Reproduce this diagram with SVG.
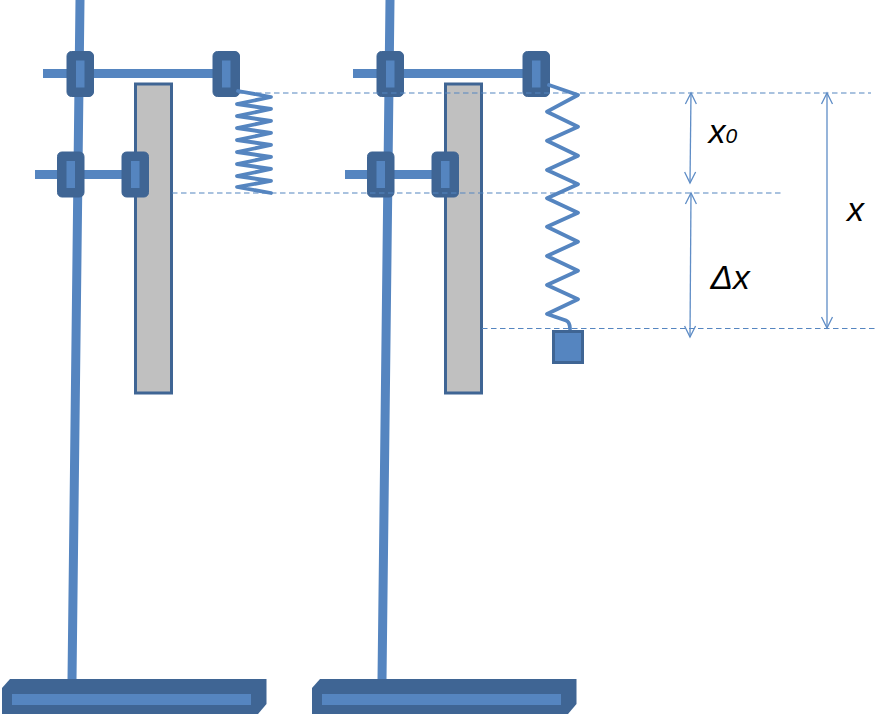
<svg xmlns="http://www.w3.org/2000/svg" xmlns:xlink="http://www.w3.org/1999/xlink" width="877" height="714" viewBox="0 0 877 714">
<style>
.pole{fill:none;stroke:#5585c0;stroke-width:9}
.dark{fill:#3f6594;stroke:#3f6594}
.light{fill:#5585c0}
.ruler{fill:#c0c0c0;stroke:#3f6594;stroke-width:3}
.spring{fill:none;stroke:#5585c0;stroke-width:3.8;stroke-linejoin:round;stroke-linecap:round}
.dash{fill:none;stroke:#5585c0;stroke-width:1.1;stroke-dasharray:5.5 3.5}
.dim{fill:none;stroke:#5f8dc6;stroke-width:1.3;marker-start:url(#open);marker-end:url(#open)}
.t{font-family:"Liberation Sans",Arial,sans-serif;font-style:italic;fill:#000}
</style>
<defs>
<marker id="open" viewBox="-12 -7 14 14" refX="0" refY="0" markerUnits="userSpaceOnUse" markerWidth="14" markerHeight="14" orient="auto-start-reverse">
<path d="M-11 -5.500 L0 0 L-11 5.500" fill="none" stroke="#5f8dc6" stroke-width="1.3"/>
</marker>
<g id="clamp"><rect class="dark" x="0.5" y="0.5" width="26.5" height="45" rx="4.5"/><rect class="light" x="9.5" y="9.5" width="8.5" height="27"/></g>
<g id="stand">
<path class="pole" d="M80 0 L72 680 M43 73.500 H226 M35 174.500 H135"/>
<rect class="ruler" x="135.500" y="84" width="36" height="309"/>
<use xlink:href="#clamp" href="#clamp" x="66.500" y="51"/>
<use xlink:href="#clamp" href="#clamp" x="212.500" y="51"/>
<use xlink:href="#clamp" href="#clamp" x="57" y="151.500"/>
<use xlink:href="#clamp" href="#clamp" x="121.500" y="151.500"/>
<path class="dark" stroke-width="0" d="M2 688 L10 679 H266.500 V704 L258 714 H2 Z"/>
<rect class="light" x="12" y="694" width="239" height="11"/>
</g>
</defs>
<g id="stand-left"><use xlink:href="#stand" href="#stand"/></g>
<g id="stand-right"><use xlink:href="#stand" href="#stand" x="310"/></g>
<g id="connectors">
<path class="dash" d="M238 93 H871 M172 193 H781 M482 328.500 H875"/>
<path class="dim" d="M691 93 L690 183"/>
<path class="dim" d="M691 193 L690 337"/>
<path class="dim" d="M827 93 V328"/>
</g>
<g id="spring-left"><path class="spring" d="M238 91 L271 97 L237 104 L271 109 L237 116 L271 121 L237 128 L271 133 L237 140 L271 145 L237 152 L271 157 L237 164 L271 169 L237 176 L271 181 L237 187 L271 193"/></g>
<g id="spring-right"><path class="spring" d="M549 85 L578 95 L547 111.700 L578 126.700 L547 140.700 L578 155.700 L547 170 L578 184.300 L547 198.300 L578 212.700 L547 226.700 L578 241.700 L547 256 L578 270.700 L547 285 L578 299.300 L547 314 L566 320.500 Q570 322 570 329"/></g>
<g id="weight"><rect x="553.500" y="331.500" width="29" height="31" fill="#5585c0" stroke="#3f6594" stroke-width="3"/></g>
<g id="label-x0"><text class="t" x="708.500" y="143" font-size="34">x<tspan font-size="21">0</tspan></text></g>
<g id="label-dx"><text class="t" x="710.500" y="288.500" font-size="33.500">Δx</text></g>
<g id="label-x"><text class="t" x="847" y="220.500" font-size="34">x</text></g>
</svg>
